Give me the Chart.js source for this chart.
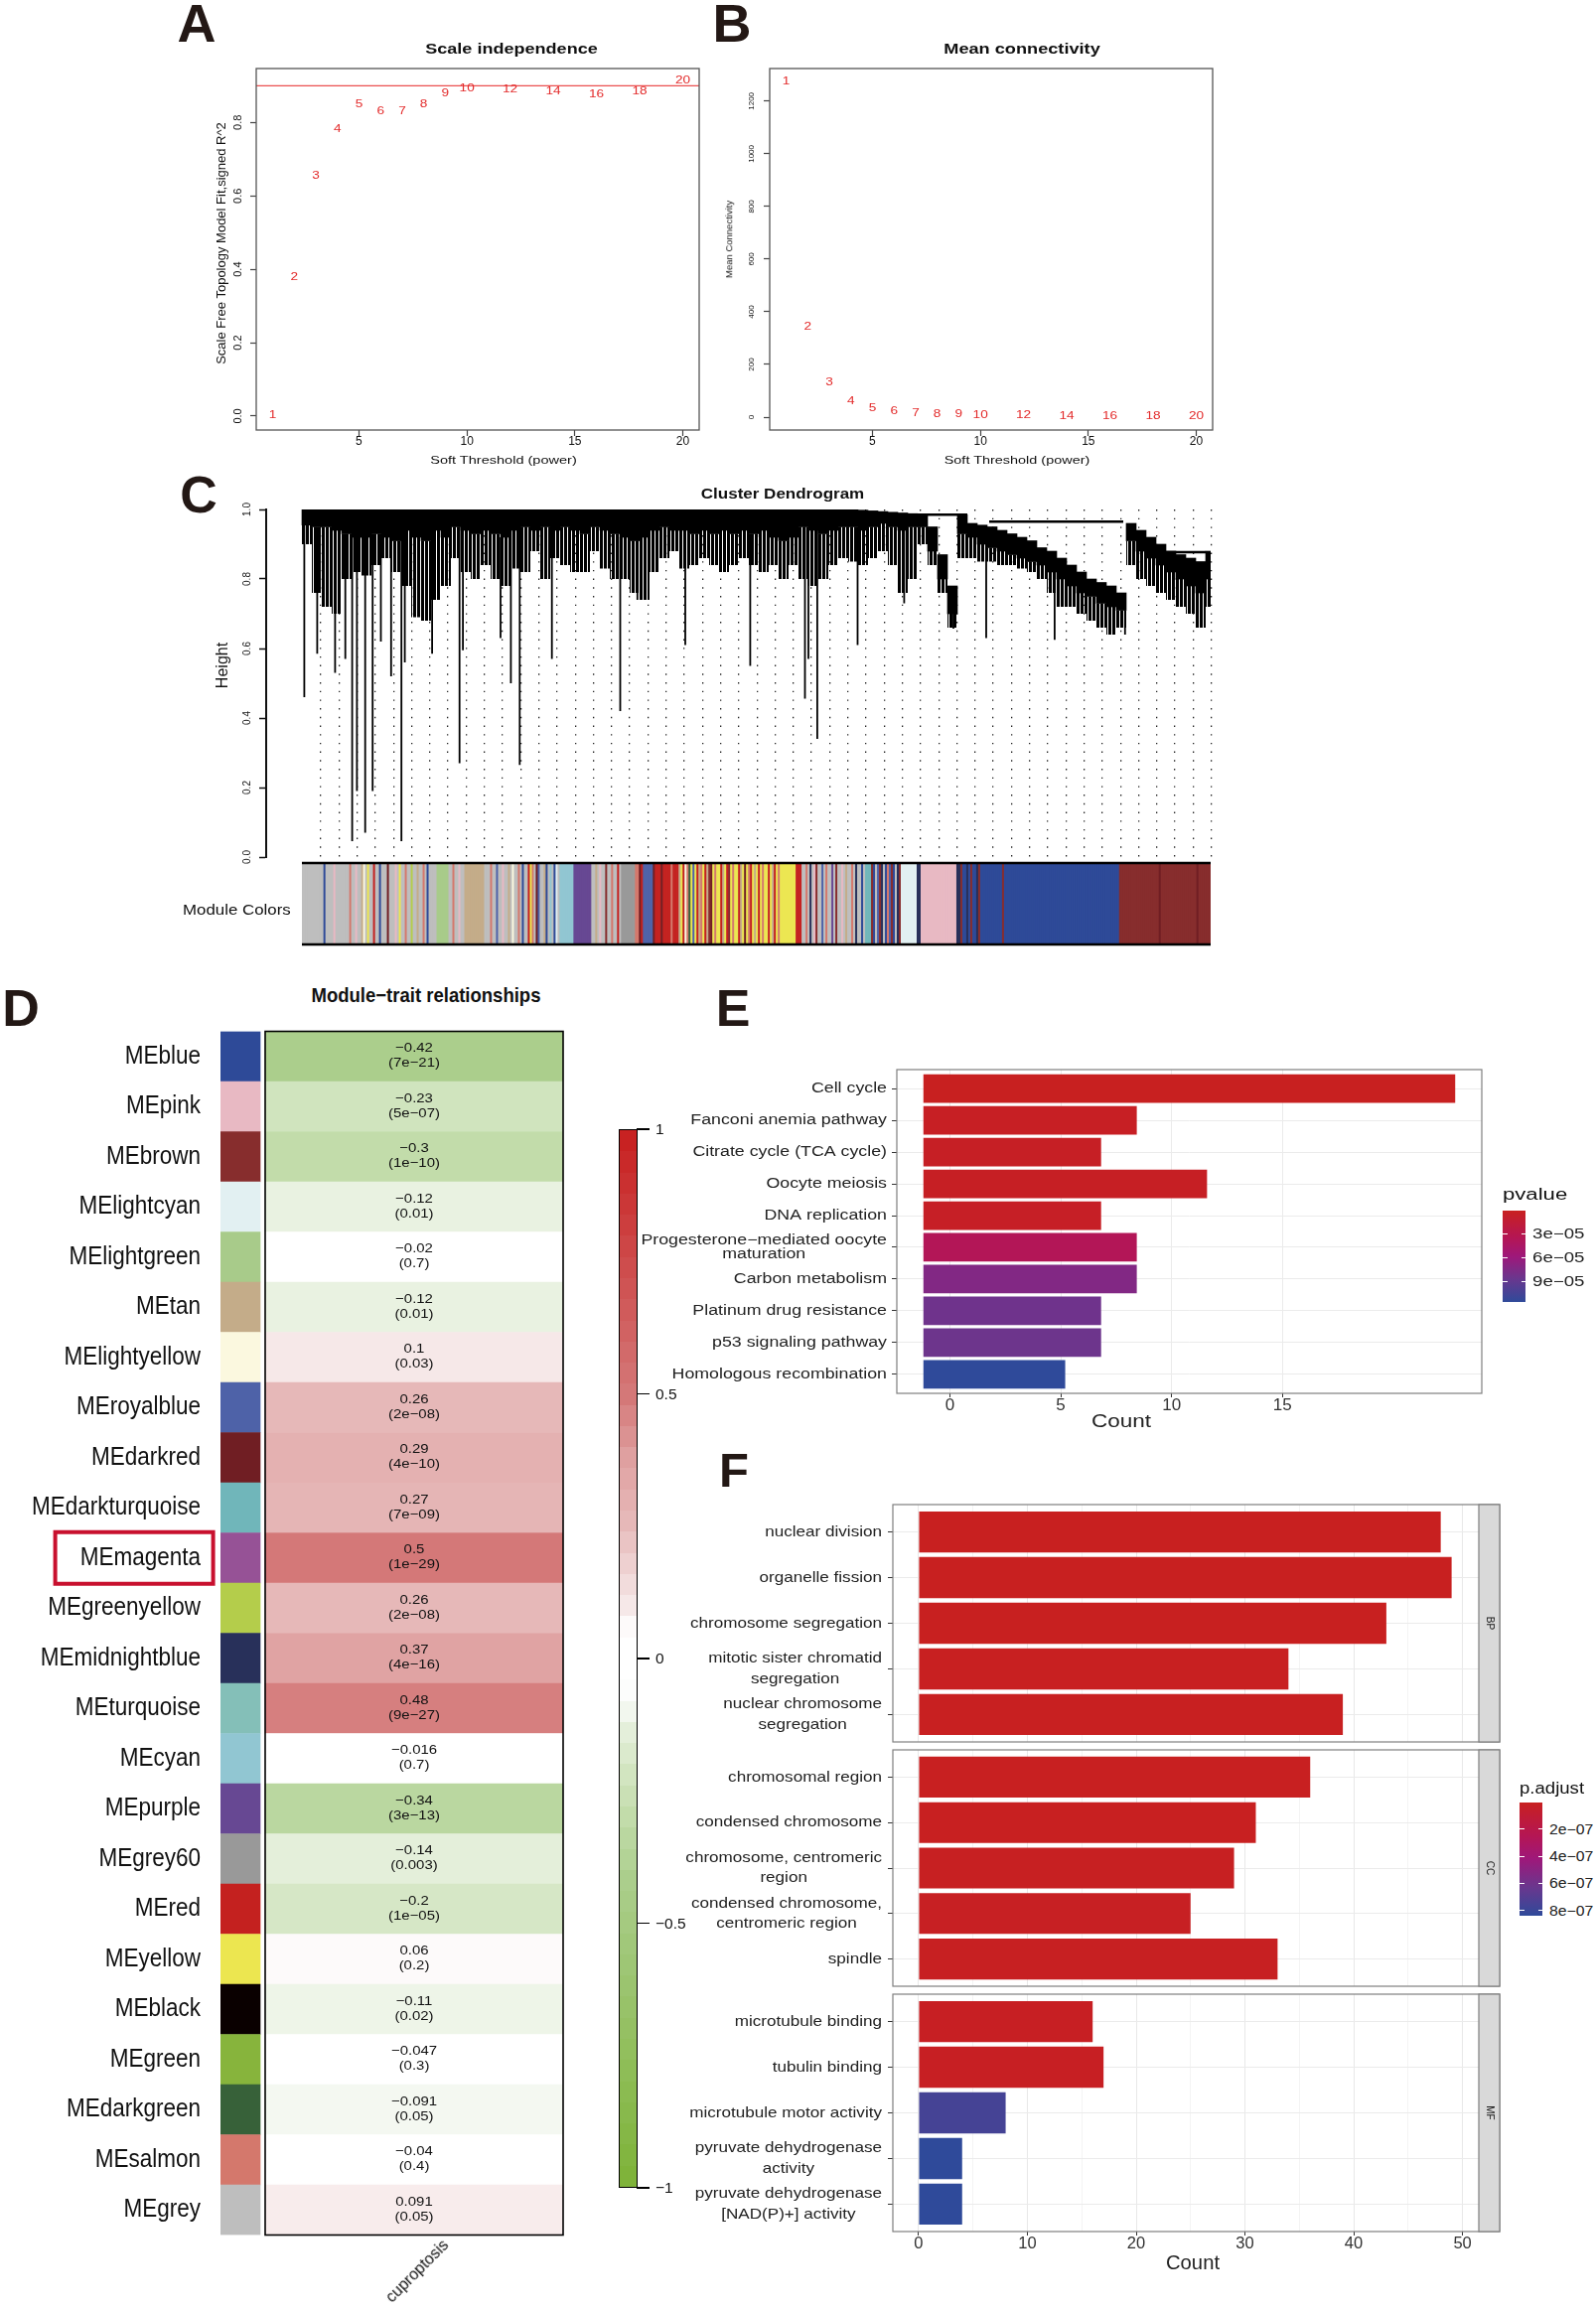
<!DOCTYPE html>
<html>
<head>
<meta charset="utf-8">
<title>WGCNA cuproptosis modules</title>
<script src="https://cdn.jsdelivr.net/npm/chart.js@4.4.1/dist/chart.umd.min.js"></script>
<style>
  html, body { margin: 0; padding: 0; background: #fff; }
  body { position: relative; width: 1607px; height: 2326px; overflow: hidden;
         font-family: "Liberation Sans", Arial, Helvetica, sans-serif; color: #111; }
  canvas { position: absolute; }
  .t { position: absolute; white-space: pre; line-height: 1; }
  .box { position: absolute; box-sizing: border-box; }
</style>
</head>
<body>
<script>
// ---------- A / B : soft threshold scan ----------
const powers = [1, 2, 3, 4, 5, 6, 7, 8, 9, 10, 12, 14, 16, 18, 20];
const fitR2 = [0.003, 0.378, 0.654, 0.782, 0.849, 0.831, 0.829, 0.850, 0.879, 0.893, 0.891, 0.884, 0.875, 0.884, 0.914];
const meanK = [1273, 343, 131, 59, 35, 21, 15, 12, 10, 7.5, 5.5, 4, 3, 3, 2];
const r2Cutoff = 0.9;
const powerTicks = [5, 10, 15, 20];
const r2Ticks = [0, 0.2, 0.4, 0.6, 0.8];
const kTicks = [0, 200, 400, 600, 800, 1000, 1200];

// ---------- C : dendrogram (one column ~ 10 leaves) ----------
const heightTicks = [0, 0.2, 0.4, 0.6, 0.8, 1.0];
const dendroTop = [
  1, 1, 1, 1, 1, 1, 1, 1, 1, 1, 1, 1, 1, 1, 1, 1, 1, 1, 1, 1,
  1, 1, 1, 1, 1, 1, 1, 1, 1, 1, 1, 1, 1, 1, 1, 1, 1, 1, 1, 1,
  1, 1, 1, 1, 1, 1, 1, 1, 1, 1, 1, 1, 1, 1, 1, 1,
  0.998, 0.996, 0.994, 0.992, 0.99, 0.988,
  0.985, 0.95, 0.87, 0.78,
  0.985, 0.96, 0.955, 0.95, 0.94, 0.93, 0.92, 0.91, 0.89, 0.88, 0.86, 0.84, 0.82, 0.80, 0.79, 0.78, 0.76,
  0.96, 0.94, 0.92, 0.90, 0.88, 0.87, 0.86, 0.85, 0.88
];
const dendroBand = [
  0.955, 0.95, 0.95, 0.94, 0.93, 0.92, 0.92, 0.93, 0.92, 0.91,
  0.94, 0.92, 0.91, 0.94, 0.92, 0.95, 0.94, 0.93, 0.94, 0.93,
  0.92, 0.94, 0.95, 0.94, 0.95, 0.94, 0.95, 0.94, 0.93, 0.95,
  0.94, 0.93, 0.92, 0.91, 0.92, 0.94, 0.95, 0.94, 0.94, 0.93,
  0.94, 0.93, 0.94, 0.93, 0.94, 0.93, 0.94, 0.92, 0.91, 0.92,
  0.95, 0.94, 0.93, 0.94, 0.95, 0.95, 0.94, 0.95, 0.96, 0.95,
  0.94, 0.95,
  0.95, 0.88, 0.80, 0.70,
  0.93, 0.92, 0.90, 0.89, 0.88, 0.87, 0.86, 0.85, 0.84, 0.82, 0.80, 0.78, 0.76, 0.75, 0.73, 0.72, 0.71,
  0.91, 0.88, 0.86, 0.84, 0.82, 0.80, 0.78, 0.76, 0.80
];
const dendroComb = [
  0.90, 0.76, 0.72, 0.70, 0.80, 0.82, 0.81, 0.84, 0.86, 0.82,
  0.78, 0.69, 0.68, 0.74, 0.78, 0.86, 0.82, 0.80, 0.84, 0.80,
  0.78, 0.83, 0.82, 0.88, 0.80, 0.86, 0.84, 0.82, 0.82, 0.88,
  0.83, 0.80, 0.80, 0.76, 0.74, 0.82, 0.86, 0.88, 0.83, 0.84,
  0.86, 0.84, 0.82, 0.84, 0.86, 0.84, 0.82, 0.84, 0.80, 0.84,
  0.80, 0.78, 0.80, 0.84, 0.86, 0.85, 0.84, 0.86, 0.88, 0.84,
  0.76, 0.80,
  0.90, 0.84, 0.76, 0.66,
  0.86, 0.86, 0.85, 0.85, 0.84, 0.84, 0.83, 0.82, 0.80, 0.76, 0.72, 0.72, 0.70, 0.68, 0.66, 0.64, 0.66,
  0.84, 0.80, 0.78, 0.76, 0.74, 0.72, 0.70, 0.66, 0.72
];
// long single branches: [column position, lowest height]
const dendroDrops = [
  [0.24, 0.46], [1.54, 0.585], [3.34, 0.53], [4.37, 0.57], [5.06, 0.046], [5.54, 0.19], [6.37, 0.07],
  [7.12, 0.19], [7.95, 0.62], [8.98, 0.52], [10.02, 0.046], [10.36, 0.56], [13.11, 0.585], [15.87, 0.27],
  [16.21, 0.595], [20.0, 0.63], [21.04, 0.50], [21.93, 0.265], [25.17, 0.57], [32.05, 0.42], [33.78, 0.74],
  [38.6, 0.61], [45.14, 0.55], [50.65, 0.456], [51.0, 0.57], [51.89, 0.34], [55.95, 0.61], [60.64, 0.73],
  [65.6, 0.657], [68.9, 0.63], [75.79, 0.625], [82.88, 0.64], [91.3, 0.73]
];
// horizontal joins: [from, to, height]
const dendroMerges = [[62, 67, 0.985], [69.2, 82.7, 0.965], [86.8, 91.0, 0.877]];
// module colour strip, run length encoded
const stripRuns = [
  ['grey', 11], ['blue', 1], ['grey', 4], ['pink', 1], ['grey', 7],
  ['salmon', 1], ['grey', 2], ['pink', 1], ['grey', 2], ['tan', 1], ['lightyellow', 1], ['grey', 1], ['yellow', 1],
  ['grey', 2], ['red', 1], ['grey', 2], ['blue', 1], ['grey', 3], ['darkred', 1], ['grey', 3], ['pink', 1], ['grey', 1],
  ['yellow', 1], ['grey', 2], ['salmon', 1], ['grey', 2], ['greenyellow', 1], ['grey', 2], ['tan', 1], ['grey', 2],
  ['salmon', 1], ['grey', 1], ['blue', 1], ['grey', 4],
  ['lightgreen', 6],
  ['grey', 2], ['salmon', 1], ['grey', 2], ['pink', 1], ['grey', 2],
  ['tan', 10],
  ['grey', 3], ['salmon', 1], ['grey', 2], ['royalblue', 1], ['grey', 2], ['pink', 1], ['grey', 2], ['tan', 1], ['grey', 1],
  ['lightyellow', 1], ['grey', 2], ['salmon', 1], ['grey', 1], ['blue', 1], ['grey', 2], ['red', 1], ['yellow', 1],
  ['salmon', 1], ['grey', 1], ['darkred', 1], ['royalblue', 1], ['grey', 2], ['tan', 1], ['blue', 1], ['grey', 1],
  ['cyan', 1], ['grey', 1], ['blue', 1], ['lightcyan', 1], ['grey', 1],
  ['cyan', 7], ['purple', 9],
  ['grey', 2], ['tan', 1], ['grey', 1], ['pink', 1], ['grey', 2], ['brown', 1], ['grey', 2], ['salmon', 1], ['grey', 2],
  ['red', 1], ['grey', 1],
  ['grey60', 7], ['salmon', 2], ['darkred', 1], ['red', 1], ['royalblue', 5],
  ['darkred', 1], ['red', 3], ['darkred', 1], ['red', 4], ['salmon', 1], ['red', 3],
  ['tan', 1], ['yellow', 1], ['red', 1], ['lightyellow', 1], ['salmon', 1], ['darkgreen', 1], ['yellow', 1], ['royalblue', 1],
  ['yellow', 1], ['red', 1], ['tan', 1], ['salmon', 1], ['yellow', 1], ['red', 1], ['tan', 1], ['brown', 1], ['darkred', 1],
  ['yellow', 1], ['salmon', 1], ['yellow', 2], ['red', 1], ['tan', 1], ['yellow', 1], ['red', 1], ['brown', 1], ['yellow', 1],
  ['salmon', 1], ['yellow', 2], ['red', 1], ['tan', 1], ['yellow', 1], ['darkred', 1], ['yellow', 1], ['salmon', 1], ['red', 1],
  ['yellow', 1], ['tan', 1], ['yellow', 1], ['red', 1], ['yellow', 1], ['salmon', 1], ['yellow', 2], ['red', 1], ['yellow', 1],
  ['tan', 1], ['red', 1], ['yellow', 1], ['salmon', 1], ['yellow', 1],
  ['yellow', 7], ['red', 3],
  ['grey', 2], ['salmon', 1], ['grey', 1], ['midnightblue', 1], ['grey', 1], ['pink', 1], ['brown', 1], ['grey', 2],
  ['royalblue', 1], ['grey', 1], ['salmon', 1], ['grey', 2], ['purple', 1], ['grey', 1], ['brown', 1], ['grey', 2], ['pink', 1],
  ['grey', 1], ['tan', 1], ['grey', 2], ['salmon', 1], ['grey', 1], ['midnightblue', 1], ['grey', 2], ['blue', 1], ['grey', 1],
  ['darkturquoise', 3],
  ['brown', 1], ['blue', 1], ['grey', 1], ['royalblue', 1], ['brown', 1], ['midnightblue', 1], ['grey', 1], ['blue', 1],
  ['salmon', 1], ['royalblue', 1], ['brown', 1], ['blue', 1], ['grey', 1], ['midnightblue', 1], ['brown', 1],
  ['lightcyan', 8], ['midnightblue', 2], ['pink', 18],
  ['midnightblue', 2], ['brown', 1], ['blue', 2], ['midnightblue', 1], ['blue', 1], ['brown', 1], ['blue', 2],
  ['midnightblue', 1], ['brown', 1], ['blue', 1],
  ['blue', 10], ['brown', 1], ['blue', 58],
  ['brown', 20], ['darkred', 1], ['brown', 18], ['darkred', 1], ['brown', 6]
];

// ---------- D : module-trait relationships ----------
const modules = ['MEblue', 'MEpink', 'MEbrown', 'MElightcyan', 'MElightgreen', 'MEtan', 'MElightyellow', 'MEroyalblue',
  'MEdarkred', 'MEdarkturquoise', 'MEmagenta', 'MEgreenyellow', 'MEmidnightblue', 'MEturquoise', 'MEcyan', 'MEpurple',
  'MEgrey60', 'MEred', 'MEyellow', 'MEblack', 'MEgreen', 'MEdarkgreen', 'MEsalmon', 'MEgrey'];
const traitCor = [-0.42, -0.23, -0.3, -0.12, -0.02, -0.12, 0.1, 0.26, 0.29, 0.27, 0.5, 0.26, 0.37, 0.48, -0.016, -0.34,
  -0.14, -0.2, 0.06, -0.11, -0.047, -0.091, -0.04, 0.091];
const traitP = ['7e-21', '5e-07', '1e-10', '0.01', '0.7', '0.01', '0.03', '2e-08', '4e-10', '7e-09', '1e-29', '2e-08',
  '4e-16', '9e-27', '0.7', '3e-13', '0.003', '1e-05', '0.2', '0.02', '0.3', '0.05', '0.4', '0.05'];
const traitName = 'cuproptosis';
const highlightModule = 'MEmagenta';
const corTicks = [1, 0.5, 0, -0.5, -1];

// ---------- E : KEGG ----------
const keggTerms = ['Cell cycle', 'Fanconi anemia pathway', 'Citrate cycle (TCA cycle)', 'Oocyte meiosis', 'DNA replication',
  ['Progesterone\u2212mediated oocyte', 'maturation'], 'Carbon metabolism', 'Platinum drug resistance',
  'p53 signaling pathway', 'Homologous recombination'];
const keggStart = -1.2;                 // bar origin as drawn on the count axis
const keggEnd = [22.8, 8.43, 6.82, 11.6, 6.82, 8.43, 8.43, 6.82, 6.82, 5.2];
const keggP = [1.2e-6, 3.5e-6, 4.6e-6, 3.8e-6, 5.1e-6, 3.68e-5, 7.35e-5, 8.4e-5, 8.5e-5, 1.16e-4];
const keggTicks = [0, 5, 10, 15];
const keggPTicks = [3e-5, 6e-5, 9e-5];
const keggPRange = [1.2e-6, 1.16e-4];

// ---------- F : GO ----------
const goBP = ['nuclear division', 'organelle fission', 'chromosome segregation',
  ['mitotic sister chromatid', 'segregation'], ['nuclear chromosome', 'segregation']];
const goBPCount = [48, 49, 43, 34, 39];
const goBPPadj = [3.0e-9, 3.2e-9, 4.5e-9, 6.0e-9, 5.5e-9];
const goCC = ['chromosomal region', 'condensed chromosome', ['chromosome, centromeric', 'region'],
  ['condensed chromosome,', 'centromeric region'], 'spindle'];
const goCCCount = [36, 31, 29, 25, 33];
const goCCPadj = [8e-9, 9e-9, 1.2e-8, 1.5e-8, 1.1e-8];
const goMF = ['microtubule binding', 'tubulin binding', 'microtubule motor activity',
  ['pyruvate dehydrogenase', 'activity'], ['pyruvate dehydrogenase', '[NAD(P)+] activity']];
const goMFCount = [16, 17, 8, 4, 4];
const goMFPadj = [1.8e-8, 1.6e-8, 7.6e-7, 8.4e-7, 8.4e-7];
const goTicks = [0, 5, 10, 15, 20, 25, 30, 35, 40, 45, 50];
const goPTicks = [2e-7, 4e-7, 6e-7, 8e-7];
const goPRange = [3e-9, 8.4e-7];

// ---------- styles ----------
const FONT = '"Liberation Sans", Arial, Helvetica, sans-serif';
const moduleColor = {
  blue: '#2e4a98', pink: '#e8b9c3', brown: '#872d2d', lightcyan: '#e2f0f2', lightgreen: '#a8cb8a', tan: '#c4ac89',
  lightyellow: '#fbf8df', royalblue: '#4e62a8', darkred: '#701e23', darkturquoise: '#70b6ba', magenta: '#965296',
  greenyellow: '#b4cd4b', midnightblue: '#28305a', turquoise: '#84bfb8', cyan: '#91c6d2', purple: '#674893',
  grey60: '#999999', red: '#c4211f', yellow: '#ece650', black: '#0a0000', green: '#87b43c', darkgreen: '#376139',
  salmon: '#d4786c', grey: '#bebebe'
};
const RED_STOPS = [[0, [255, 255, 255]], [0.05, [255, 255, 255]], [0.1, [246, 232, 232]], [0.27, [229, 181, 181]],
  [0.37, [224, 163, 163]], [0.5, [212, 120, 120]], [1, [200, 30, 30]]];
const GREEN_STOPS = [[0, [255, 255, 255]], [0.05, [255, 255, 255]], [0.1, [242, 247, 238]], [0.12, [233, 242, 225]],
  [0.2, [214, 231, 198]], [0.3, [194, 220, 170]], [0.42, [171, 206, 140]], [1, [125, 178, 55]]];
const P_STOPS = [[0, [200, 32, 32]], [0.3, [180, 22, 85]], [0.5, [158, 24, 122]], [0.75, [105, 55, 142]], [1, [47, 74, 154]]];
const SWATCH_COL = [0, 40];
const TRAIT_COL = [45, 345];

function lerpStops(stops, t) {
  if (t <= stops[0][0]) return stops[0][1];
  for (let i = 1; i < stops.length; i++) {
    if (t <= stops[i][0]) {
      const [t0, c0] = stops[i - 1], [t1, c1] = stops[i];
      const f = (t - t0) / (t1 - t0);
      return c0.map((v, k) => Math.round(v + (c1[k] - v) * f));
    }
  }
  return stops[stops.length - 1][1];
}
const rgb = c => `rgb(${c[0]},${c[1]},${c[2]})`;
const corColor = r => rgb(lerpStops(r >= 0 ? RED_STOPS : GREEN_STOPS, Math.abs(r)));
const pPos = (p, range) => (p - range[0]) / (range[1] - range[0]);
const pColor = (p, range) => rgb(lerpStops(P_STOPS, pPos(p, range)));
const minus = s => String(s).replace('-', '\u2212');
const fmtExp = v => {
  const [m, e] = v.toExponential(0).split('e');
  const n = parseInt(e, 10);
  return m + 'e' + (n < 0 ? '\u2212' : '+') + String(Math.abs(n)).padStart(2, '0');
};

Chart.defaults.font.family = FONT;
Chart.defaults.color = '#111';
Chart.defaults.animation = false;
Chart.defaults.responsive = false;
Chart.defaults.events = [];
Chart.defaults.plugins.legend.display = false;
Chart.defaults.plugins.tooltip.enabled = false;

// ---------- helpers ----------
function canvasAt(left, top, w, h) {
  const c = document.createElement('canvas');
  c.width = w; c.height = h;
  c.style.left = left + 'px'; c.style.top = top + 'px';
  c.style.width = w + 'px'; c.style.height = h + 'px';
  document.body.appendChild(c);
  return c;
}
function txt(s, x, y, o = {}) {
  const d = document.createElement('div');
  d.className = 't';
  d.textContent = s;
  d.style.fontSize = (o.size || 14) + 'px';
  if (o.bold) d.style.fontWeight = 'bold';
  d.style.color = o.color || '#111';
  d.style.left = x + 'px';
  d.style.top = y + 'px';
  document.body.appendChild(d);
  const sx = o.w ? o.w / d.offsetWidth : (o.sx || 1);
  const ax = o.anchor === 'left' ? '0%' : o.anchor === 'right' ? '-100%' : '-50%';
  d.style.transformOrigin = o.anchor === 'left' ? '0% 50%' : o.anchor === 'right' ? '100% 50%' : '50% 50%';
  d.style.transform = `translate(${ax}, -50%)` + (o.rot ? ` rotate(${o.rot}deg)` : '') + ` scaleX(${sx})`;
  return d;
}
function box(left, top, w, h, css) {
  const d = document.createElement('div');
  d.className = 'box';
  Object.assign(d.style, { left: left + 'px', top: top + 'px', width: w + 'px', height: h + 'px' }, css);
  document.body.appendChild(d);
  return d;
}
const fixSize = (w, h) => s => {
  if (w !== undefined) s.width = w;
  if (h !== undefined) s.height = h;
  s.paddingTop = s.paddingBottom = s.paddingLeft = s.paddingRight = 0;
};
const setTicks = vals => s => { s.ticks = vals.map(v => ({ value: v })); };

function frame(color, width, extraRight = 0) {
  return { id: 'frame', afterDatasetsDraw(chart) {
    const a = chart.chartArea, ctx = chart.ctx;
    ctx.save(); ctx.strokeStyle = color; ctx.lineWidth = width;
    ctx.strokeRect(a.left, a.top, a.right - a.left + extraRight, a.bottom - a.top);
    ctx.restore();
  } };
}
function pointText(labels, color, size, sx) {
  return { id: 'pointText', afterDatasetsDraw(chart) {
    const ctx = chart.ctx;
    ctx.save(); ctx.font = size + 'px ' + FONT; ctx.fillStyle = color;
    ctx.textAlign = 'center'; ctx.textBaseline = 'middle';
    chart.getDatasetMeta(0).data.forEach((pt, i) => {
      ctx.save(); ctx.translate(pt.x, pt.y); ctx.scale(sx, 1); ctx.fillText(String(labels[i]), 0, 0); ctx.restore();
    });
    ctx.restore();
  } };
}
function refLine(value, color) {
  return { id: 'refLine', beforeDatasetsDraw(chart) {
    const y = chart.scales.y.getPixelForValue(value), a = chart.chartArea, ctx = chart.ctx;
    ctx.save(); ctx.strokeStyle = color; ctx.lineWidth = 1.2;
    ctx.beginPath(); ctx.moveTo(a.left, y); ctx.lineTo(a.right, y); ctx.stroke(); ctx.restore();
  } };
}
// R style y tick labels, written parallel to the axis
function rotTicks(x, size, decimals) {
  return { id: 'rotTicks', afterDraw(chart) {
    const s = chart.scales.y, ctx = chart.ctx;
    ctx.save(); ctx.font = size + 'px ' + FONT; ctx.fillStyle = '#111';
    ctx.textAlign = 'center'; ctx.textBaseline = 'middle';
    s.ticks.forEach(t => {
      ctx.save(); ctx.translate(x, s.getPixelForValue(t.value)); ctx.rotate(-Math.PI / 2);
      ctx.fillText(t.value.toFixed(decimals), 0, 0); ctx.restore();
    });
    ctx.restore();
  } };
}
// category labels with a horizontal stretch, multi-line blocks centred
function yLabels(labels, o) {
  return { id: 'yLabels', afterDraw(chart) {
    const s = chart.scales.y, ctx = chart.ctx, xr = chart.chartArea.left - o.gap;
    ctx.save(); ctx.font = o.size + 'px ' + FONT; ctx.fillStyle = o.color;
    ctx.textAlign = 'center'; ctx.textBaseline = 'middle';
    s.ticks.forEach(t => {
      const lines = [].concat(labels[t.value]);
      const block = Math.max(...lines.map(l => ctx.measureText(l).width)) * o.sx;
      const y0 = s.getPixelForValue(t.value) - (lines.length - 1) * o.lh / 2;
      lines.forEach((l, k) => {
        ctx.save(); ctx.translate(xr - block / 2, y0 + k * o.lh); ctx.scale(o.sx, 1);
        ctx.fillText(l, 0, 0); ctx.restore();
      });
    });
    ctx.restore();
  } };
}
function hatchPattern() {
  const tile = document.createElement('canvas');
  tile.width = 4; tile.height = 6;
  const g = tile.getContext('2d');
  g.fillStyle = '#000'; g.fillRect(0, 0, 3, 6);
  return g.createPattern(tile, 'repeat');
}
const rAxisGrid = { drawOnChartArea: false, tickLength: 6, tickColor: '#444', tickWidth: 1.2 };

// ---------- A ----------
new Chart(canvasAt(170, 55, 545, 425), {
  type: 'scatter',
  data: { datasets: [{ data: powers.map((p, i) => ({ x: p, y: fitR2[i] })), pointRadius: 0 }] },
  options: {
    layout: { padding: { left: 0, top: 14, right: 11, bottom: 0 } },
    scales: {
      x: { type: 'linear', bounds: 'data', min: 0.24, max: 20.76, afterBuildTicks: setTicks(powerTicks),
        afterFit: fixSize(undefined, 47), grid: rAxisGrid, border: { display: false },
        ticks: { font: { size: 12, lineHeight: 1 }, color: '#111', padding: 0, maxRotation: 0, autoSkip: false } },
      y: { type: 'linear', bounds: 'data', min: -0.038, max: 0.947, afterBuildTicks: setTicks(r2Ticks),
        afterFit: fixSize(88), grid: rAxisGrid, border: { display: false }, ticks: { display: false } }
    }
  },
  plugins: [frame('#555', 1.3), refLine(r2Cutoff, '#ea5050'), pointText(powers, '#e32b2b', 10.5, 1.3), rotTicks(70, 11, 1)]
});

// ---------- B ----------
new Chart(canvasAt(720, 55, 505, 425), {
  type: 'scatter',
  data: { datasets: [{ data: powers.map((p, i) => ({ x: p, y: meanK[i] })), pointRadius: 0 }] },
  options: {
    layout: { padding: { left: 0, top: 14, right: 4, bottom: 0 } },
    scales: {
      x: { type: 'linear', bounds: 'data', min: 0.24, max: 20.76, afterBuildTicks: setTicks(powerTicks),
        afterFit: fixSize(undefined, 47), grid: rAxisGrid, border: { display: false },
        ticks: { font: { size: 12, lineHeight: 1 }, color: '#111', padding: 0, maxRotation: 0, autoSkip: false } },
      y: { type: 'linear', bounds: 'data', min: -49, max: 1324, afterBuildTicks: setTicks(kTicks),
        afterFit: fixSize(55), grid: rAxisGrid, border: { display: false }, ticks: { display: false } }
    }
  },
  plugins: [frame('#555', 1.3), pointText(powers, '#e32b2b', 10.5, 1.3), rotTicks(37, 8, 0)]
});

// ---------- C : dendrogram ----------
const guideTicks = [];
for (let g = 1.9; g < 91.6; g += 1.83) guideTicks.push(g);
const dropPts = [];
dendroDrops.forEach(([x, low]) => {
  dropPts.push({ x, y: dendroBand[Math.floor(x)] }, { x, y: low }, { x, y: null });
});
const mergePts = [];
dendroMerges.forEach(([x1, x2, h]) => { mergePts.push({ x: x1, y: h }, { x: x2, y: h }, { x: x2, y: null }); });

new Chart(canvasAt(200, 500, 1030, 372), {
  type: 'bar',
  data: {
    datasets: [
      { type: 'bar', data: dendroTop.map((t, i) => ({ x: i + 0.5, y: [dendroBand[i], t] })), backgroundColor: '#000',
        barPercentage: 1, categoryPercentage: 1, grouped: false },
      { type: 'bar', data: dendroTop.map((t, i) => ({ x: i + 0.5, y: [dendroComb[i], dendroBand[i]] })),
        backgroundColor: hatchPattern(), barPercentage: 1, categoryPercentage: 1, grouped: false, inflateAmount: 0 },
      { type: 'line', data: dropPts, borderColor: '#000', borderWidth: 1.8, pointRadius: 0, spanGaps: false },
      { type: 'line', data: mergePts, borderColor: '#000', borderWidth: 2.5, pointRadius: 0, spanGaps: false }
    ]
  },
  options: {
    layout: { padding: { left: 0, top: 13, right: 11, bottom: 9 } },
    scales: {
      x: { type: 'linear', offset: false, bounds: 'data', min: -3.6, max: 91.5, afterBuildTicks: setTicks(guideTicks),
        afterFit: fixSize(undefined, 0), ticks: { display: false },
        grid: { color: '#222', lineWidth: 1.3, drawTicks: false, offset: false }, border: { display: false, dash: [1.4, 7.3] } },
      y: { type: 'linear', bounds: 'data', min: 0, max: 1, afterBuildTicks: setTicks(heightTicks),
        afterFit: fixSize(68), ticks: { display: false },
        grid: { drawOnChartArea: false, tickLength: 7, tickColor: '#111', tickWidth: 1.5 },
        border: { display: true, color: '#111', width: 2 } }
    }
  },
  plugins: [rotTicks(49, 10, 1)]
});

// colour strip under the tree
const stripCells = [];
stripRuns.forEach(([m, n]) => { for (let k = 0; k < n; k++) stripCells.push(m); });
new Chart(canvasAt(300, 862, 925, 95), {
  type: 'bar',
  data: {
    labels: stripCells.map((_, i) => i),
    datasets: [{ data: stripCells.map(() => 1), backgroundColor: stripCells.map(m => moduleColor[m]),
      barPercentage: 1, categoryPercentage: 1 }]
  },
  options: {
    layout: { padding: { left: 4, top: 6, right: 6, bottom: 5 } },
    scales: { x: { display: false }, y: { display: false, min: 0, max: 1 } }
  },
  plugins: [{ id: 'stripEdges', afterDatasetsDraw(chart) {
    const a = chart.chartArea, ctx = chart.ctx;
    ctx.save(); ctx.strokeStyle = '#000'; ctx.lineWidth = 2.6; ctx.beginPath();
    ctx.moveTo(a.left, a.top + 1); ctx.lineTo(a.right, a.top + 1);
    ctx.moveTo(a.left, a.bottom - 1); ctx.lineTo(a.right, a.bottom - 1);
    ctx.stroke(); ctx.restore();
  } }]
});

// ---------- D : heatmap ----------
new Chart(canvasAt(0, 1020, 720, 1306), {
  type: 'bar',
  data: {
    labels: modules,
    datasets: [
      { data: modules.map(() => SWATCH_COL), backgroundColor: modules.map(m => moduleColor[m.slice(2)]),
        grouped: false, barPercentage: 1, categoryPercentage: 1 },
      { data: modules.map(() => TRAIT_COL), backgroundColor: traitCor.map(corColor),
        grouped: false, barPercentage: 1, categoryPercentage: 1 }
    ]
  },
  options: {
    indexAxis: 'y',
    layout: { padding: { left: 0, top: 18.5, right: 153, bottom: 75.5 } },
    scales: {
      x: { type: 'linear', min: 0, max: 345, display: false },
      y: { afterFit: fixSize(222), ticks: { display: false }, grid: { display: false }, border: { display: false } }
    }
  },
  plugins: [
    yLabels(modules, { size: 25, sx: 0.9, gap: 20, lh: 0, color: '#111' }),
    { id: 'heatDecor', afterDatasetsDraw(chart) {
      const ctx = chart.ctx, xs = chart.scales.x, ys = chart.scales.y, a = chart.chartArea;
      const x0 = xs.getPixelForValue(TRAIT_COL[0]), x1 = xs.getPixelForValue(TRAIT_COL[1]), xc = (x0 + x1) / 2;
      ctx.save();
      ctx.font = '13px ' + FONT; ctx.fillStyle = '#111'; ctx.textAlign = 'center'; ctx.textBaseline = 'middle';
      modules.forEach((m, i) => {
        const yc = ys.getPixelForValue(i);
        [[minus(traitCor[i]), yc - 8], ['(' + minus(traitP[i]) + ')', yc + 7]].forEach(([s, y]) => {
          ctx.save(); ctx.translate(xc, y); ctx.scale(1.15, 1); ctx.fillText(s, 0, 0); ctx.restore();
        });
      });
      ctx.strokeStyle = '#000'; ctx.lineWidth = 1.6;
      ctx.strokeRect(x0, a.top, x1 - x0, a.bottom - a.top);
      const yh = ys.getPixelForValue(modules.indexOf(highlightModule));
      ctx.strokeStyle = '#c8102e'; ctx.lineWidth = 4;
      ctx.strokeRect(55.6, yh - 26, 159, 52);
      ctx.restore();
    } }
  ]
});

// ---------- E : KEGG bars ----------
new Chart(canvasAt(600, 1060, 920, 390), {
  type: 'bar',
  data: { datasets: [{
    data: keggTerms.map((t, i) => ({ y: i, x: [keggStart, keggEnd[i]] })),
    backgroundColor: keggP.map(p => pColor(p, keggPRange)),
    barPercentage: 0.9, categoryPercentage: 1
  }] },
  options: {
    indexAxis: 'y',
    layout: { padding: { left: 0, top: 17, right: 28, bottom: 17 } },
    scales: {
      x: { type: 'linear', bounds: 'data', min: -2.4, max: 24.0, afterBuildTicks: setTicks(keggTicks),
        afterFit: fixSize(undefined, 30), grid: { color: '#ebebeb', tickLength: 4, tickColor: '#333' },
        border: { display: false },
        ticks: { font: { size: 17, lineHeight: 1 }, color: '#333', padding: 0, maxRotation: 0, autoSkip: false } },
      y: { type: 'linear', offset: false, bounds: 'data', min: -0.6, max: 9.6, reverse: true,
        afterBuildTicks: setTicks(keggTerms.map((_, i) => i)), afterFit: fixSize(303),
        grid: { color: '#ebebeb', tickLength: 5, tickColor: '#333', offset: false }, border: { display: false },
        ticks: { display: false } }
    }
  },
  plugins: [frame('#7f7f7f', 1.2), yLabels(keggTerms, { size: 14, sx: 1.27, gap: 10, lh: 14.4, color: '#222' })]
});

// ---------- F : GO facets ----------
function goFacet(top, h, padTop, padBottom, terms, counts, padj, strip, showAxis) {
  return new Chart(canvasAt(640, top, 880, h), {
    type: 'bar',
    data: { datasets: [{
      data: counts.map((v, i) => ({ y: i, x: v })),
      backgroundColor: padj.map(p => pColor(p, goPRange)),
      barPercentage: 0.9, categoryPercentage: 1
    }] },
    options: {
      indexAxis: 'y',
      layout: { padding: { left: 0, top: padTop, right: 31, bottom: padBottom } },
      scales: {
        x: { type: 'linear', bounds: 'data', min: -2.37, max: 51.5, afterBuildTicks: setTicks(goTicks),
          afterFit: fixSize(undefined, showAxis ? 50 : 0),
          grid: { color: c => (c.tick && c.tick.value % 10 === 0) ? '#e8e8e8' : '#f4f4f4',
            drawTicks: showAxis, tickLength: 4,
            tickColor: c => (c.tick && c.tick.value % 10 === 0) ? '#333' : 'rgba(0,0,0,0)' },
          border: { display: false },
          ticks: { display: showAxis, callback: v => (v % 10 === 0 ? String(v) : ''), font: { size: 16.5, lineHeight: 1 },
            color: '#333', padding: 0, maxRotation: 0, autoSkip: false } },
        y: { type: 'linear', offset: false, bounds: 'data', min: -0.6, max: 4.6, reverse: true,
          afterBuildTicks: setTicks(terms.map((_, i) => i)), afterFit: fixSize(259),
          grid: { color: '#ebebeb', tickLength: 5, tickColor: '#333', offset: false }, border: { display: false },
          ticks: { display: false } }
      }
    },
    plugins: [
      frame('#7f7f7f', 1.2, 21),
      yLabels(terms, { size: 15, sx: 1.14, gap: 11, lh: 20.7, color: '#222' }),
      { id: 'facetStrip', afterDraw(chart) {
        const a = chart.chartArea, ctx = chart.ctx;
        ctx.save();
        ctx.fillStyle = '#d9d9d9'; ctx.fillRect(a.right, a.top, 21, a.bottom - a.top);
        ctx.strokeStyle = '#7f7f7f'; ctx.lineWidth = 1.2; ctx.strokeRect(a.right, a.top, 21, a.bottom - a.top);
        ctx.translate(a.right + 10.5, (a.top + a.bottom) / 2); ctx.rotate(Math.PI / 2);
        ctx.fillStyle = '#1a1a1a'; ctx.font = '10px ' + FONT; ctx.textAlign = 'center'; ctx.textBaseline = 'middle';
        ctx.fillText(strip, 0, 0);
        ctx.restore();
      } }
    ]
  });
}
goFacet(1510, 250, 5, 6, goBP, goBPCount, goBPPadj, 'BP', false);
goFacet(1757, 250, 5, 7, goCC, goCCCount, goCCPadj, 'CC', false);
goFacet(2003, 323, 5, 29, goMF, goMFCount, goMFPadj, 'MF', true);

// ---------- colour legends ----------
// D: module-trait colour key (50 bins)
const cbTop = 1137, cbH = 1066;
const bands = [];
for (let k = 0; k < 50; k++) {
  const c = corColor(-1 + (k + 0.5) * 0.04);
  bands.push(`${c} ${k * 2}%`, `${c} ${(k + 1) * 2}%`);
}
box(623, cbTop, 19, cbH, { border: '1.5px solid #000', background: `linear-gradient(to top, ${bands.join(',')})` });
corTicks.forEach(v => {
  const y = cbTop + (1 - v) / 2 * cbH;
  box(641, y - 0.8, 13, 1.6, { background: '#000' });
  txt(minus(v), 660, y, { anchor: 'left', size: 15.5 });
});

function pLegend(left, top, w, h, ticks, range, title, titleY, labelSize, labelW) {
  const grad = P_STOPS.map(([t, c]) => `${rgb(c)} ${t * 100}%`).join(',');
  box(left, top, w, h, { background: `linear-gradient(to bottom, ${grad})` });
  ticks.forEach(p => {
    const y = top + pPos(p, range) * h;
    box(left, y - 0.5, 4.5, 1, { background: '#fff' });
    box(left + w - 4.5, y - 0.5, 4.5, 1, { background: '#fff' });
    txt(fmtExp(p), left + w + 7, y, { anchor: 'left', size: labelSize, w: labelW, color: '#222' });
  });
  txt(title, left, titleY, { anchor: 'left', size: 16, w: 65, color: '#111' });
}
pLegend(1513, 1219, 23, 92, keggPTicks, keggPRange, 'pvalue', 1203, 14, 52);
pLegend(1530, 1815, 23, 114, goPTicks, goPRange, 'p.adjust', 1801, 14, 44);

// ---------- titles, axis titles, panel letters ----------
const letter = { bold: true, color: '#231815' };
txt('A', 198, 23, { ...letter, size: 54 });
txt('B', 737, 23, { ...letter, size: 54 });
txt('C', 200, 498, { ...letter, size: 52 });
txt('D', 21, 1015, { ...letter, size: 52 });
txt('E', 738, 1015, { ...letter, size: 52 });
txt('F', 739, 1480, { ...letter, size: 49 });

txt('Scale independence', 515, 49, { bold: true, size: 14, w: 174 });
txt('Mean connectivity', 1029, 49, { bold: true, size: 14, w: 157 });
txt('Soft Threshold (power)', 507, 463, { size: 11, w: 148 });
txt('Soft Threshold (power)', 1024, 463, { size: 11, w: 147 });
txt('Scale Free Topology Model Fit,signed R^2', 222, 245, { size: 13, rot: -90 });
txt('Mean Connectivity', 734, 241, { size: 9.5, rot: -90 });

txt('Cluster Dendrogram', 788, 497, { bold: true, size: 14, w: 164 });
txt('Height', 224, 670, { size: 16, rot: -90 });
txt('Module Colors', 184, 915, { anchor: 'left', size: 15, w: 109 });

txt('Module\u2212trait relationships', 429, 1001, { bold: true, size: 21, w: 231 });
txt(traitName, 449, 2258, { anchor: 'right', size: 16, rot: -45 });

txt('Count', 1129, 1431, { size: 18, w: 60, color: '#222' });
txt('Count', 1201, 2277, { size: 21, w: 54, color: '#222' });
</script>
</body>
</html>
